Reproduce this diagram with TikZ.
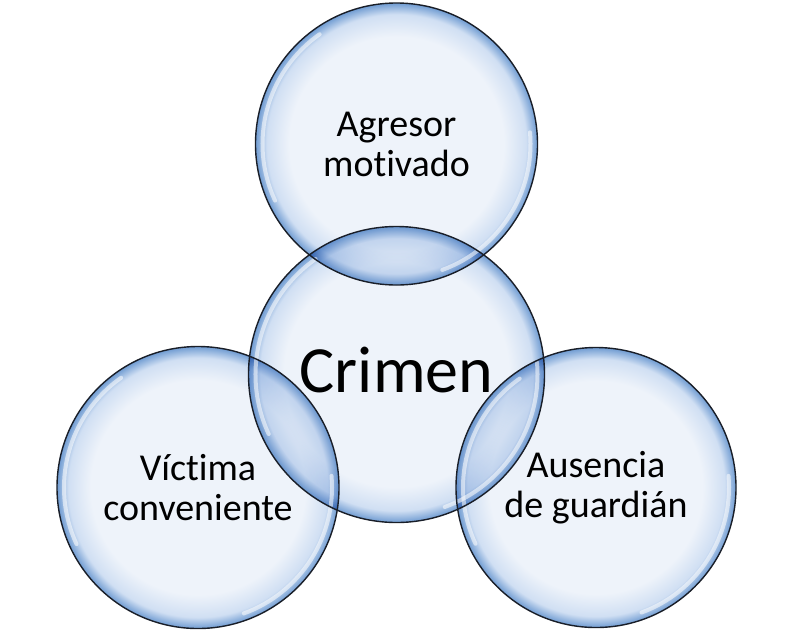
\documentclass[tikz,border=0pt]{standalone}
\usepackage{fontspec}
\setmainfont{Carlito}[Ligatures={NoCommon,NoContextual},RawFeature={-liga;-clig;-calt;-dlig}]
\usepackage{xcolor}

\definecolor{bubblepale}{RGB}{238,243,250}
\definecolor{bubblemid}{RGB}{208,223,243}
\definecolor{bubbleedge}{RGB}{112,156,210}
\definecolor{bubbleline}{RGB}{25,30,40}
\pgfdeclareradialshading{bubble}{\pgfpoint{0bp}{0bp}}{color(0bp)=(bubblepale); color(19bp)=(bubblepale); color(23bp)=(bubblemid); color(25bp)=(bubbleedge); color(50bp)=(bubbleedge)}

\begin{document}
\begin{tikzpicture}[x=1pt,y=1pt]
\useasboundingbox (0,0) rectangle (791,-633);

% centres of the four circles
\coordinate (agresor) at (396.5,-144);
\coordinate (crimen) at (396.5,-374.5);
\coordinate (victima) at (198,-487.5);
\coordinate (guardian) at (596,-487.5);

\begin{scope}[blend mode=multiply]
\shade[shading=bubble] (agresor) circle (141);
\shade[shading=bubble] (crimen) circle (148);
\shade[shading=bubble] (victima) circle (141);
\shade[shading=bubble] (guardian) circle (140);
\end{scope}

% white rims
\foreach \c/\r in {agresor/141,crimen/148,victima/141,guardian/140}{
  \draw[white, line width=4, opacity=0.55, line cap=round] (\c) ++(125:\r-7) arc[start angle=125, end angle=205, radius=\r-7];
  \draw[white, line width=4, opacity=0.55, line cap=round] (\c) ++(-70:\r-7) arc[start angle=-70, end angle=5, radius=\r-7];
}

\draw[bubbleline, line width=1.4] (agresor) circle (141);
\draw[bubbleline, line width=1.4] (crimen) circle (148);
\draw[bubbleline, line width=1.4] (victima) circle (141);
\draw[bubbleline, line width=1.4] (guardian) circle (140);

\node[align=center, font=\fontsize{38}{40}\selectfont] (t1) at (agresor) {Agresor\\mot\kern0pt ivado};
\node[font=\fontsize{66}{70}\selectfont] (t2) at ([yshift=4]crimen) {Crimen};
\node[align=center, font=\fontsize{38}{40}\selectfont] (t3) at (victima) {Víct\kern0pt ima\\conveniente};
\node[align=center, font=\fontsize{38}{40}\selectfont] (t4) at (guardian) {Ausencia\\de guardián};
\end{tikzpicture}
\end{document}
